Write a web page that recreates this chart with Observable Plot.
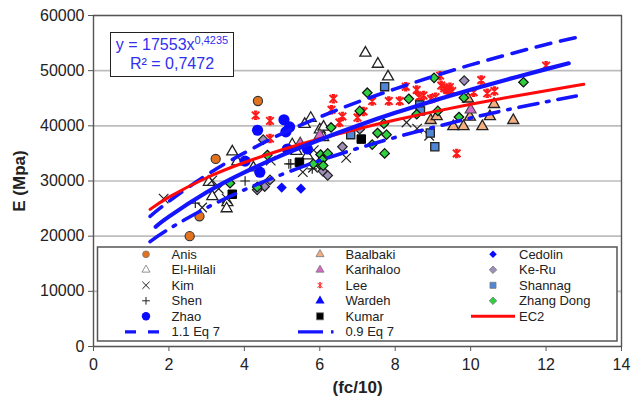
<!DOCTYPE html>
<html><head><meta charset="utf-8">
<script src="https://cdn.jsdelivr.net/npm/d3@7"></script>
<script src="https://cdn.jsdelivr.net/npm/@observablehq/plot@0.6"></script>
<style>
body{margin:0;background:#fff;font-family:"Liberation Sans",Arial,sans-serif;}
#wrap{position:relative;width:643px;height:400px;overflow:hidden;}
#wrap svg{position:absolute;left:0;top:0;}
#eq{position:absolute;left:110px;top:32px;width:122px;height:41px;border:1.5px solid #222;background:#fff;color:#2f2ff0;font-size:16px;line-height:19px;text-align:center;padding-top:2px;}
#eq sup{font-size:11px;vertical-align:6px;line-height:0;}
</style></head><body>
<div id="wrap"></div>
<script>
// ---- data (x = fc/10, y = E in MPa) ----
const xTicks = [0, 2, 4, 6, 8, 10, 12, 14];
const yTicks = [0, 10000, 20000, 30000, 40000, 50000, 60000];

const anis = [[4.36,44500],[3.24,34000],[2.81,23600],[2.55,20000]];
const baalbaki = [[9.93,44900],[10.62,43900],[8.94,41000],[9.1,41700],[9.54,39900],[9.81,39900],[9.98,41600],[10.31,39900],[10.51,41700],[11.13,41000]];
const cedolin = [[4.99,28800],[5.5,28600]];
const elHilali = [[3.68,35300],[3.81,33500],[3.06,29800],[3.15,27200],[3.55,26100],[3.53,25000],[4.24,32400],[5.76,41400],[5.6,40300],[6.0,39300],[6.1,39800],[6.09,37900],[5.27,36600],[5.38,35400],[7.21,53200],[7.54,51200],[7.81,48900],[5.67,34600]];
const karihaloo = [[5.48,36800],[6.0,38300],[10.0,42900]];
const keRu = [[4.5,37500],[4.68,30200],[4.54,29000],[4.34,28400],[6.08,31800],[6.21,31000],[6.6,36200],[7.06,39400],[9.83,48200]];
const kim = [[1.86,26800],[2.88,25200],[3.15,30100],[3.32,28600],[3.53,26800],[4.7,33700],[5.55,31600],[5.82,32400],[5.84,35600],[6.7,34200],[8.3,40600],[8.58,39500],[8.9,38200]];
const lee = [[4.3,41900],[4.68,40900],[4.68,37700],[6.36,44900],[6.31,42900],[6.6,41700],[6.52,40600],[7.0,41500],[7.16,42600],[7.39,44500],[7.83,44500],[8.12,44500],[8.28,47100],[8.57,46500],[8.75,45500],[8.63,45200],[8.95,44900],[9.19,49100],[9.22,47300],[9.3,46800],[9.38,46500],[9.45,47000],[9.51,46300],[9.07,45200],[10.08,46100],[10.28,48300],[10.44,45900],[10.63,46300],[12.0,50900],[9.63,35000]];
const shannag = [[7.72,47100],[6.82,38400],[8.65,43800],[8.67,42700],[8.93,38700],[9.05,36200]];
const shen = [[4.02,30000],[5.23,33100],[5.8,32200],[5.18,33100],[2.7,26000]];
const wardeh = [];
const zhangDong = [[4.61,34700],[3.62,29600],[4.34,28900],[6.02,34800],[6.21,35000],[6.07,33900],[6.0,33000],[5.83,33100],[6.09,32800],[6.3,39700],[7.06,42700],[7.26,46000],[7.72,35000],[7.39,36600],[7.53,38700],[7.7,40400],[7.77,38400],[8.36,44900],[8.57,42100],[9.03,48700],[9.13,42700],[9.69,41600],[9.82,45100],[11.4,47900]];
const zhao = [[5.05,41100],[5.2,39800],[4.35,39200],[5.1,38900],[4.02,33600],[4.41,31600],[5.14,35800],[5.67,35800]];
const kumar = [[3.68,27600],[5.46,33400],[7.1,37600]];

// curves
const fitX   = [1.65, 2, 3, 4, 5, 6, 7, 8, 9, 10, 11, 12, 12.6];
const fitY   = [21700, 23540, 27950, 31570, 34700, 37490, 40020, 42350, 44510, 46550, 48460, 50280, 51330];
const upX    = [1.5, 2, 3, 4, 5, 6, 7, 8, 9, 10, 11, 12, 13];
const upY    = [23600, 26300, 31100, 35100, 38600, 41600, 44300, 46700, 48950, 51050, 52950, 54750, 56300];
const lowX   = [1.5, 2, 3, 4, 5, 6, 7, 8, 9, 10, 11, 12, 12.8];
const lowY   = [19000, 21300, 25150, 28400, 31200, 33700, 35900, 37900, 39700, 41400, 42950, 44350, 45400];
const ec2X   = [1.5, 2, 3, 4, 5, 6, 7, 8, 9, 10, 11, 12, 13];
const ec2Y   = [24850, 27080, 30590, 33350, 35660, 37660, 39440, 41050, 42530, 43900, 45170, 46360, 47530];

const legendNames = ["Anis","Baalbaki","Cedolin","El-Hilali","Karihaloo","Ke-Ru","Kim","Lee","Shannag","Shen","Wardeh","Zhang Dong","Zhao","Kumar","EC2","1.1 Eq 7","0.9 Eq 7"];

// ---- styles ----
const BLUE = "#1414ff";
const starSymbol = {draw(ctx, size) {
  const r = Math.sqrt(size / Math.PI);
  ctx.moveTo(-r, -r); ctx.lineTo(r, r);
  ctx.moveTo(-r, r); ctx.lineTo(r, -r);
  ctx.moveTo(0, -r * 1.1); ctx.lineTo(0, r * 1.1);
  ctx.moveTo(-r * 0.45, -r); ctx.lineTo(r * 0.45, -r);
  ctx.moveTo(-r * 0.45, r); ctx.lineTo(r * 0.45, r);
}};
const series = {
  "Anis":      {data: anis,      symbol: d3.symbolCircle,   fill: "#e2721e", stroke: "#333", r: 4.6, sw: 1.1, lr: 3.4},
  "Baalbaki":  {data: baalbaki,  symbol: d3.symbolTriangle, fill: "#f4ae80", stroke: "#222", r: 4.1, sw: 1.3, lr: 3.0},
  "Cedolin":   {data: cedolin,   symbol: d3.symbolDiamond2, fill: "#0a0aff", stroke: "none", r: 4.6, sw: 0, lr: 3.4},
  "El-Hilali": {data: elHilali,  symbol: d3.symbolTriangle, fill: "#fff",    stroke: "#222", r: 4.1, sw: 1.3, lr: 3.0},
  "Karihaloo": {data: karihaloo, symbol: d3.symbolTriangle, fill: "#d868c8", stroke: "#444", r: 4.1, sw: 1.1, lr: 3.0},
  "Ke-Ru":     {data: keRu,      symbol: d3.symbolDiamond2, fill: "#9d90b8", stroke: "#222", r: 4.3, sw: 1.2, lr: 3.4},
  "Kim":       {data: kim,       symbol: d3.symbolTimes,    fill: "none",    stroke: "#222", r: 4.4, sw: 1.2, lr: 3.4, line: true},
  "Lee":       {data: lee,       symbol: starSymbol,        fill: "none",    stroke: "#ff1a1a", r: 3.8, sw: 1.9, lr: 2.4, line: true},
  "Shannag":   {data: shannag,   symbol: d3.symbolSquare,   fill: "#4f86d6", stroke: "#222", r: 4.6, sw: 1.3, lr: 3.4},
  "Shen":      {data: shen,      symbol: d3.symbolPlus,     fill: "none",    stroke: "#222", r: 3.2, sw: 1.2, lr: 2.6, line: true},
  "Wardeh":    {data: wardeh,    symbol: d3.symbolTriangle, fill: "#0a0aff", stroke: "none", r: 4.0, sw: 0, lr: 3.4},
  "Zhang Dong":{data: zhangDong, symbol: d3.symbolDiamond2, fill: "#2fd040", stroke: "#111", r: 4.3, sw: 1.2, lr: 3.4},
  "Zhao":      {data: zhao,      symbol: d3.symbolCircle,   fill: "#0a0aff", stroke: "none", r: 5.6, sw: 0, lr: 4.2},
  "Kumar":     {data: kumar,     symbol: d3.symbolSquare,   fill: "#000",    stroke: "#000", r: 4.8, sw: 1, lr: 4.0}
};

const drawOrder = ["Anis","Baalbaki","Cedolin","El-Hilali","Karihaloo","Ke-Ru","Kim","Lee","Shannag","Shen","Wardeh","Zhang Dong","Kumar","Zhao"];

const pts = (xs, ys) => xs.map((x, i) => ({x, y: ys[i]}));

const dotMarks = drawOrder.map(n => {
  const s = series[n];
  return Plot.dot(s.data, {x: d => d[0], y: d => d[1], symbol: s.symbol, r: s.r,
    fill: s.fill, stroke: s.stroke, strokeWidth: s.sw});
});

const chart = Plot.plot({
  width: 643, height: 400,
  marginLeft: 93, marginRight: 22, marginTop: 15, marginBottom: 54,
  style: {fontFamily: "'Liberation Sans', Arial, sans-serif", fontSize: "16px", color: "#222", background: "transparent"},
  x: {domain: [0, 14]},
  y: {domain: [0, 60000]},
  marks: [
    Plot.gridY(yTicks, {stroke: "#bdbdbd", strokeOpacity: 1, strokeWidth: 1.6}),
    Plot.frame({stroke: "#555", strokeWidth: 1.4}),
    Plot.axisX(xTicks, {tickSize: 5, tickPadding: 7, stroke: "#555", label: "(fc/10)", labelAnchor: "center", labelArrow: "none", labelOffset: 46}),
    Plot.axisY(yTicks, {tickSize: 5, tickPadding: 4, stroke: "#555", tickFormat: d => String(d), label: "E (Mpa)", labelAnchor: "center", labelArrow: "none", labelOffset: 81}),
    ...dotMarks,
    Plot.line(pts(upX, upY), {x: "x", y: "y", stroke: BLUE, strokeWidth: 3.6, strokeDasharray: "15,10", curve: "natural"}),
    Plot.line(pts(lowX, lowY), {x: "x", y: "y", stroke: BLUE, strokeWidth: 3.6, strokeDasharray: "19,9,2.5,9", curve: "natural"}),
    Plot.line(pts(ec2X, ec2Y), {x: "x", y: "y", stroke: "#ff0a0a", strokeWidth: 3, curve: "natural"}),
    Plot.line(pts(fitX, fitY), {x: "x", y: "y", stroke: BLUE, strokeWidth: 4.2, curve: "natural"})
  ]
});
d3.select(chart).selectAll('[aria-label="x-axis label"] text, [aria-label="y-axis label"] text, [aria-label="x-axis label"], [aria-label="y-axis label"]')
  .attr("font-weight", "bold").attr("font-size", "17px");

const wrap = document.getElementById("wrap");
wrap.appendChild(chart);

// equation box
const eq = document.createElement("div");
eq.id = "eq";
eq.innerHTML = "y = 17553x<sup>0,4235</sup><br>R² = 0,7472";
wrap.appendChild(eq);

// legend (inside plot area, bottom)
const lg = d3.select(wrap).append("svg").attr("width", 643).attr("height", 400)
  .style("font-family", "'Liberation Sans', Arial, sans-serif").style("font-size", "13px");
lg.append("rect").attr("x", 97.5).attr("y", 247).attr("width", 519.5).attr("height", 94)
  .attr("fill", "#fff").attr("stroke", "#555").attr("stroke-width", 1.5);
const colSym = [146, 320, 493], colTxt = [171.5, 345.5, 519], row0 = 254.3, rowH = 15.5;
legendNames.forEach((n, i) => {
  const c = i % 3, r = Math.floor(i / 3);
  const cy = row0 + r * rowH, sx = colSym[c];
  const g = lg.append("g");
  if (series[n]) {
    const s = series[n];
    g.append("path").attr("transform", `translate(${sx},${cy})`)
      .attr("d", d3.symbol(s.symbol, s.lr * s.lr * Math.PI)())
      .attr("fill", s.fill).attr("stroke", s.stroke === "none" ? "none" : (s.line ? s.stroke : "#777"))
      .attr("stroke-width", s.line ? 1 : 0.8);
  } else if (n === "EC2") {
    g.append("line").attr("x1", 471).attr("x2", 515).attr("y1", cy).attr("y2", cy)
      .attr("stroke", "#ff0a0a").attr("stroke-width", 3);
  } else if (n === "1.1 Eq 7") {
    g.append("line").attr("x1", 125).attr("x2", 159).attr("y1", cy).attr("y2", cy)
      .attr("stroke", BLUE).attr("stroke-width", 3.2).attr("stroke-dasharray", "11,12");
  } else if (n === "0.9 Eq 7") {
    g.append("line").attr("x1", 298).attr("x2", 334).attr("y1", cy).attr("y2", cy)
      .attr("stroke", BLUE).attr("stroke-width", 3.2).attr("stroke-dasharray", "25,8,2.5,20");
  }
  g.append("text").attr("x", colTxt[c]).attr("y", cy).attr("dy", "0.36em")
    .attr("fill", "#222").text(n);
});
</script>
</body></html>
